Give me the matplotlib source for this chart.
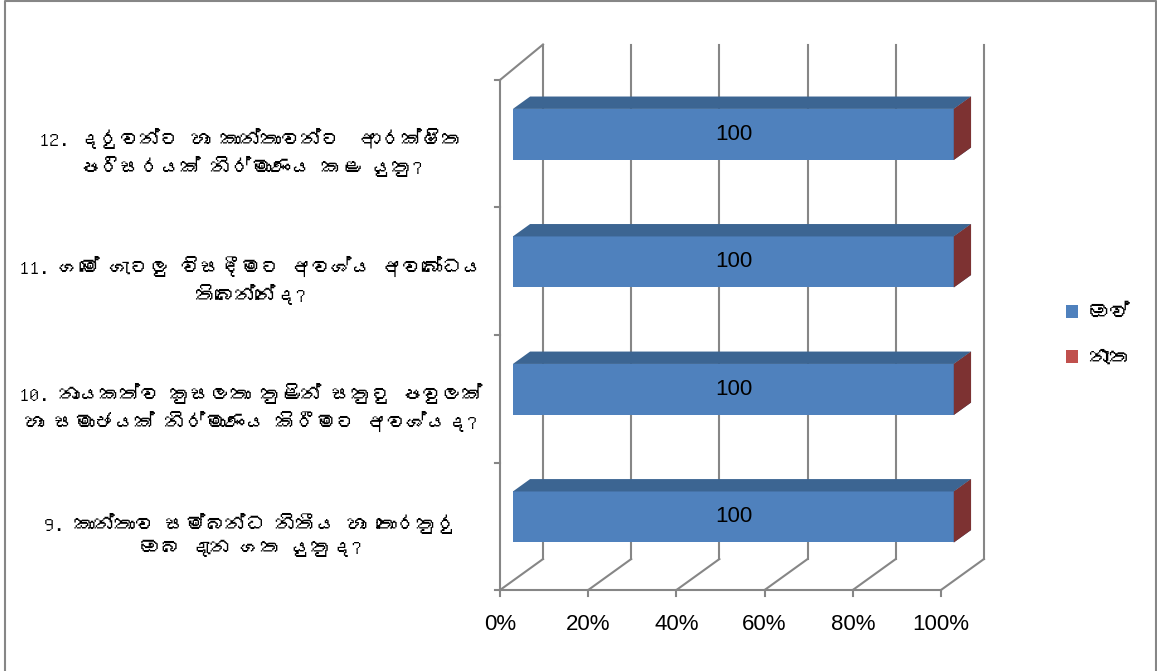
import matplotlib
matplotlib.use("Agg")
import matplotlib.pyplot as plt
from matplotlib import font_manager
from matplotlib.ft2font import FT2Font
from matplotlib.patches import Polygon, Patch

# chart data
questions = [
    "9. කාන්තාව සම්බන්ධ නිතීය හා තොරතුරු\nඔබ දැන ගත යුතුද?",
    "10. නායකත්ව කුසලතා තුළින් සතුටු පවුලක්\nහා සමාජයක් නිර්මාණය කිරීමට අවශ්යද?",
    "11. ගමේ ගැටලු විසඳීමට අවශ්ය අවබෝධය\nතිබෙන්නේද?",
    "12. දරුවන්ට හා කාන්තාවන්ට  ආරක්ෂිත\nපරිසරයක් නිර්මාණය කළ යුතු?",
]
series_names = ["ඔව්", "නැත"]
yes_values = [100, 100, 100, 100]
no_values = [0, 0, 0, 0]
x_ticks = [0, 20, 40, 60, 80, 100]
x_tick_labels = ["0%", "20%", "40%", "60%", "80%", "100%"]


def find_sinhala_font():
    for f in font_manager.fontManager.ttflist:
        try:
            if 0x0D9A in FT2Font(f.fname).get_charmap():
                return f.name
        except Exception:
            pass
    return None


sinhala = find_sinhala_font()
label_family = [sinhala, "Liberation Serif", "DejaVu Sans"] if sinhala else ["Liberation Serif", "DejaVu Sans"]

grid_col = "#868686"
front_cols = ["#4F81BD", "#C0504D"]
top_cols = ["#3C6592", "#963E3C"]
side_cols = ["#35587F", "#7D3232"]

fig = plt.figure(figsize=(11.57, 6.71), dpi=100)
ax = fig.add_axes([0, 0, 1, 1])
# front plane: 0..100 % across, one unit per category vertically
ax.set_xlim(-113.4, 149.0)
ax.set_ylim(-0.635, 4.627)
ax.axis("off")

n = len(questions)
DX, DY = 9.75, 0.243          # depth offset of the back wall
z0, z1 = 0.30, 0.70           # bar depth span
bar_h = 0.4

# back wall gridlines and floor
for t in x_ticks:
    ax.plot([t + DX, t + DX], [DY, n + DY + 0.035], color=grid_col, lw=1.5, zorder=1)
    ax.plot([t, t + DX], [0, DY], color=grid_col, lw=1.5, zorder=1)
# left wall
ax.plot([0, DX], [n, n + DY + 0.035], color=grid_col, lw=1.5, zorder=1)
ax.plot([0, 0], [0, n], color=grid_col, lw=1.5, zorder=1)
ax.plot([0, 100], [0, 0], color=grid_col, lw=1.5, zorder=1)
for i in range(n + 1):
    ax.plot([-1.2, 0], [i, i], color=grid_col, lw=1.5, zorder=1)
for t in x_ticks:
    ax.plot([t, t], [0, -0.05], color=grid_col, lw=1.5, zorder=1)


def box(x0, x1, yc, k):
    y0 = yc - bar_h / 2 + z0 * DY
    y1 = yc + bar_h / 2 + z0 * DY
    fx0, fx1 = x0 + z0 * DX, x1 + z0 * DX
    dx, dy = (z1 - z0) * DX, (z1 - z0) * DY
    front = [(fx0, y0), (fx1, y0), (fx1, y1), (fx0, y1)]
    top = [(fx0, y1), (fx1, y1), (fx1 + dx, y1 + dy), (fx0 + dx, y1 + dy)]
    side = [(fx1, y0), (fx1 + dx, y0 + dy), (fx1 + dx, y1 + dy), (fx1, y1)]
    ax.add_patch(Polygon(front, closed=True, fc=front_cols[k], ec="none", zorder=3))
    ax.add_patch(Polygon(top, closed=True, fc=top_cols[k], ec="none", zorder=3))
    ax.add_patch(Polygon(side, closed=True, fc=side_cols[k], ec="none", zorder=3))
    return (fx0 + fx1) / 2, (y0 + y1) / 2


for i in range(n):
    yc = i + 0.5
    cx, cy = box(0, yes_values[i], yc, 0)
    box(yes_values[i], yes_values[i] + no_values[i], yc, 1)
    ax.text(cx, cy, str(yes_values[i]), ha="center", va="center",
            fontsize=16, family="Liberation Sans", zorder=4)
    ax.text(-56.5, yc - 0.07, questions[i], ha="center", va="center",
            fontsize=14.5, family=label_family, linespacing=1.4)

for t, lab in zip(x_ticks, x_tick_labels):
    ax.text(t, -0.27, lab, ha="center", va="center", fontsize=16, family="Liberation Sans")

handles = [Patch(fc=front_cols[k], ec="none", label=series_names[k]) for k in range(2)]
leg = ax.legend(handles=handles, loc="center left", bbox_to_anchor=(0.905, 0.5),
                frameon=False, handlelength=0.6, handleheight=0.6, handletextpad=0.5,
                labelspacing=1.3, prop=font_manager.FontProperties(family=label_family, size=15))

# chart border
ax.plot([0.004, 0.004, 0.9995, 0.9995], [0.0, 0.999, 0.999, 0.0],
        transform=ax.transAxes, color=grid_col, lw=1.5, clip_on=False)

fig.savefig("out.png", dpi=100)
